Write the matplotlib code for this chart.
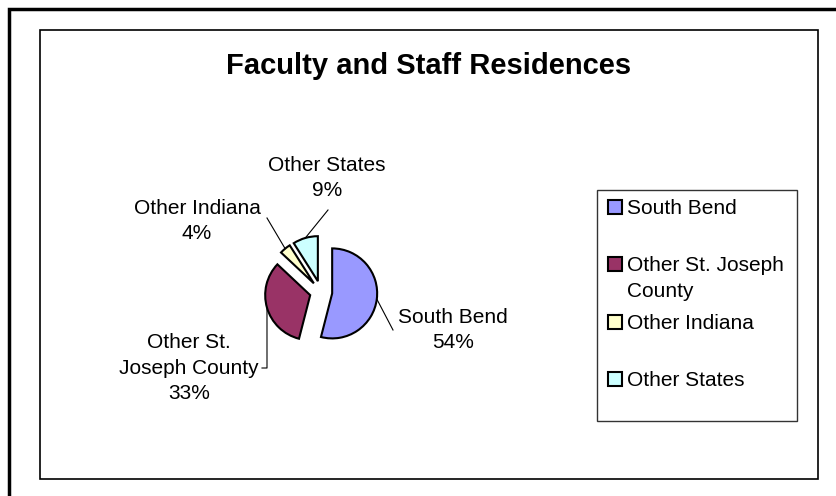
import numpy as np
import matplotlib
matplotlib.use('Agg')
import matplotlib.pyplot as plt
from matplotlib.patches import Rectangle

plt.rcParams['font.family'] = ['Liberation Sans', 'DejaVu Sans']

# data
categories = ['South Bend', 'Other St. Joseph County', 'Other Indiana', 'Other States']
shares = [54, 33, 4, 9]
pie_labels = ['South Bend', 'Other St.\nJoseph County', 'Other Indiana', 'Other States']
legend_labels = ['South Bend', 'Other St. Joseph\nCounty', 'Other Indiana', 'Other States']
colors = ['#9999FF', '#993366', '#FFFFCC', '#CCFFFF']

W, H = 837, 496


def fy(y):
    # image row (from top) -> data y (from bottom)
    return H - y


fig = plt.figure(figsize=(W / 100, H / 100), dpi=100)
ax = fig.add_axes([0, 0, 1, 1])

radius = 45
wedges, _ = ax.pie(shares, colors=colors, startangle=90, counterclock=False,
                   center=(321, fy(292)), radius=radius,
                   explode=[0.25 * radius] * len(shares),
                   wedgeprops=dict(edgecolor='black', linewidth=1.5))
ax.set_xlim(0, W)
ax.set_ylim(0, H)
ax.axis('off')

# data labels with leader lines (layout positions, image coords)
label_pos = [(453, 330), (189, 368), (197, 221), (327, 178)]
leader_bends = [[(393, 330)], [(267, 368), (262, 368)], [(267, 218)], [(328, 210)]]

for w, lab, val, pos, bends in zip(wedges, pie_labels, shares, label_pos, leader_bends):
    mid = np.deg2rad((w.theta1 + w.theta2) / 2)
    cx, cy = w.center
    xs = [cx + w.r * np.cos(mid)] + [b[0] for b in bends]
    ys = [cy + w.r * np.sin(mid)] + [fy(b[1]) for b in bends]
    ax.plot(xs, ys, color='black', lw=0.8)
    ax.text(pos[0], fy(pos[1]), f"{lab}\n{val}%", ha='center', va='center',
            fontsize=15, linespacing=1.42)

# title
ax.text(429, fy(74), 'Faculty and Staff Residences', ha='center', va='baseline',
        fontsize=21, fontweight='bold')

# frames
ax.add_patch(Rectangle((9, -20), W + 30, fy(9) + 20, fill=False, ec='black', lw=2.5))
ax.add_patch(Rectangle((40, fy(479)), 778, 449, fill=False, ec='black', lw=1.2))

# legend
ax.add_patch(Rectangle((597, fy(421)), 200, 231, fill=False, ec='#333333', lw=1.0))
for i, (lab, col) in enumerate(zip(legend_labels, colors)):
    row = 207 + i * 57.3
    ax.add_patch(Rectangle((608, fy(row) - 7), 14, 14, fc=col, ec='black', lw=1.5))
    ax.text(627, fy(row - 8), lab, ha='left', va='top', fontsize=15, linespacing=1.42)

fig.savefig('out.png', dpi=100)
